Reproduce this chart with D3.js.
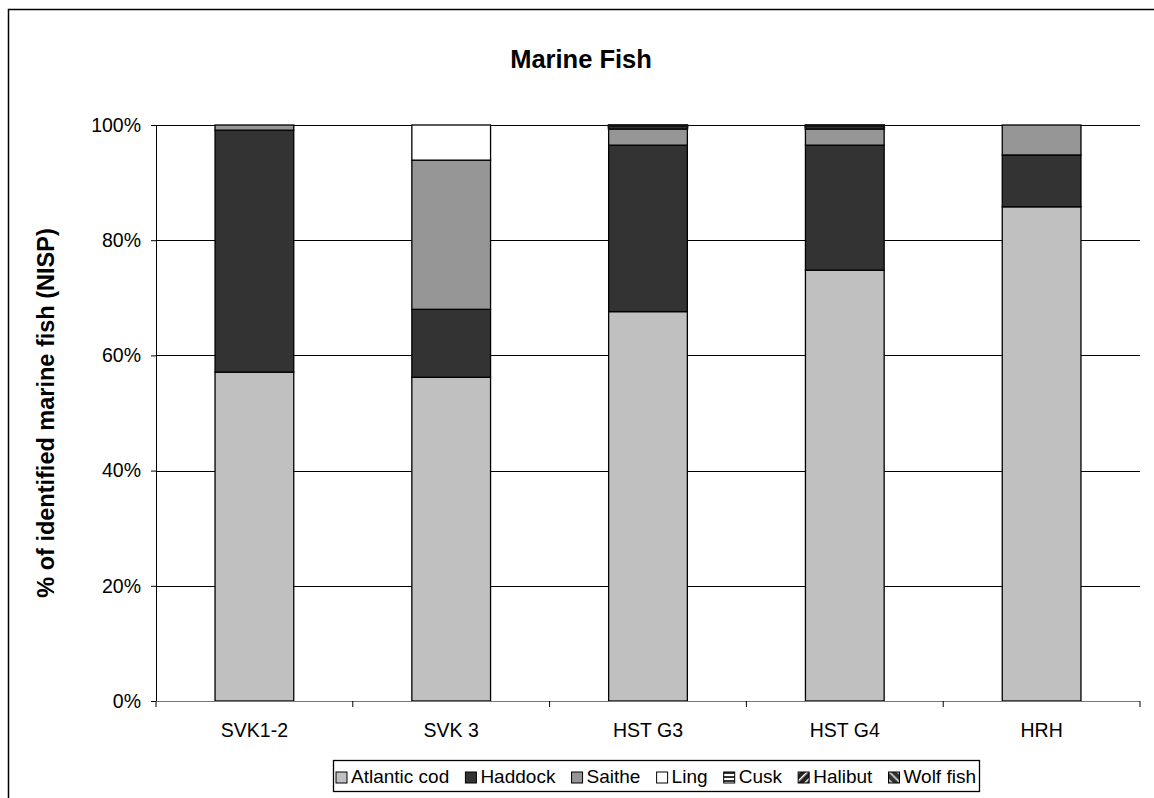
<!DOCTYPE html>
<html><head><meta charset="utf-8">
<script src="https://cdn.jsdelivr.net/npm/d3@7"></script>
<style>body{margin:0;background:#fff}svg{display:block;font-family:"Liberation Sans",Arial,sans-serif}</style>
</head><body><svg id="c" width="1154" height="798"></svg>
<script>
const categories = ["SVK1-2","SVK 3","HST G3","HST G4","HRH"];
const species = ["Atlantic cod","Haddock","Saithe","Ling","Cusk","Halibut","Wolf fish"];
const atlanticCod = [57.1, 56.2, 67.6, 74.8, 85.8];
const haddock     = [42.0, 11.8, 28.9, 21.7, 9.0];
const saithe      = [0.9, 25.9, 2.8, 2.8, 5.2];
const ling        = [0, 6.1, 0, 0, 0];
const cusk        = [0, 0, 0.4, 0.4, 0];
const halibut     = [0, 0, 0.3, 0.3, 0];
const wolfFish    = [0, 0, 0, 0, 0];
const yTicks = [0, 20, 40, 60, 80, 100];

const seriesVals = [atlanticCod, haddock, saithe, ling, cusk, halibut, wolfFish];
const data = categories.map((c,i)=>{const o={cat:c}; species.forEach((s,j)=>o[s]=seriesVals[j][i]); return o;});

const FS = 19.5;
const svg = d3.select("#c");
const defs = svg.append("defs");
const p1 = defs.append("pattern").attr("id","pCusk").attr("patternUnits","userSpaceOnUse").attr("width",4).attr("height",4);
p1.append("rect").attr("width",4).attr("height",4).attr("fill","#fff");
p1.append("rect").attr("width",4).attr("height",2).attr("fill","#333");
const p2 = defs.append("pattern").attr("id","pHal").attr("patternUnits","userSpaceOnUse").attr("width",6).attr("height",6).attr("patternTransform","rotate(-45)");
p2.append("rect").attr("width",6).attr("height",6).attr("fill","#222");
p2.append("rect").attr("width",6).attr("height",1.5).attr("fill","#fff");
const p3 = defs.append("pattern").attr("id","pWolf").attr("patternUnits","userSpaceOnUse").attr("width",6).attr("height",6).attr("patternTransform","rotate(45)");
p3.append("rect").attr("width",6).attr("height",6).attr("fill","#333");
p3.append("rect").attr("width",6).attr("height",2).attr("fill","#bbb");
const colors = {"Atlantic cod":"#C0C0C0","Haddock":"#333333","Saithe":"#969696","Ling":"#FFFFFF","Cusk":"url(#pCusk)","Halibut":"url(#pHal)","Wolf fish":"url(#pWolf)"};

svg.append("rect").attr("x",8.5).attr("y",9.5).attr("width",1160).attr("height",800).attr("fill","none").attr("stroke","#000").attr("stroke-width",1.5);

const pLeft=156, pRight=1140, pTop=125, pBottom=701;
const x = d3.scaleBand().domain(categories).range([pLeft,pRight]).paddingInner(0.6).paddingOuter(0.3);
const y = d3.scaleLinear().domain([0,100]).range([pBottom,pTop]);

svg.append("g").selectAll("line").data(yTicks.filter(t=>t>0)).join("line")
  .attr("x1",pLeft).attr("x2",pRight).attr("y1",d=>Math.round(y(d))+0.5).attr("y2",d=>Math.round(y(d))+0.5)
  .attr("stroke","#000").attr("stroke-width",1);

const stack = d3.stack().keys(species)(data);
svg.append("g").selectAll("g").data(stack).join("g")
  .attr("fill",d=>colors[d.key])
  .selectAll("rect").data(d=>d.filter(v=>v[1]-v[0]>0)).join("rect")
  .attr("x",d=>x(d.data.cat)).attr("width",x.bandwidth())
  .attr("y",d=>y(d[1])).attr("height",d=>y(d[0])-y(d[1]))
  .attr("stroke",d=>(y(d[0])-y(d[1]))<4?"#111":"#000").attr("stroke-width",d=>(y(d[0])-y(d[1]))<4?1.8:1.3);

const yAxis = d3.axisLeft(y).tickValues(yTicks).tickFormat(d=>d+"%").tickSize(5).tickPadding(10);
const ga = svg.append("g").attr("transform",`translate(${pLeft},0)`).call(yAxis);
ga.select(".domain").attr("stroke","#000");
ga.selectAll("text").attr("font-size",FS).attr("fill","#000").attr("font-family","Liberation Sans, Arial");
ga.selectAll(".tick line").attr("stroke","#000");

const gx = svg.append("g").attr("transform",`translate(0,${pBottom})`);
gx.append("line").attr("x1",pLeft).attr("x2",pRight).attr("y1",0.5).attr("y2",0.5).attr("stroke","#777");
const step = x.step();
gx.selectAll("line.t").data(d3.range(categories.length+1)).join("line").attr("class","t")
  .attr("x1",i=>pLeft+i*step).attr("x2",i=>pLeft+i*step).attr("y1",0).attr("y2",6).attr("stroke","#000");
gx.selectAll("text").data(categories).join("text")
  .attr("x",d=>x(d)+x.bandwidth()/2).attr("y",36).attr("text-anchor","middle")
  .attr("font-size",FS).text(d=>d);

svg.append("text").attr("x",581).attr("y",68).attr("text-anchor","middle").attr("font-size",25.5).attr("font-weight","bold").text("Marine Fish");
svg.append("text").attr("transform","translate(54,413) rotate(-90)").attr("text-anchor","middle").attr("font-size",23.5).attr("font-weight","bold").text("% of identified marine fish (NISP)");

const lg = svg.append("g");
const lx0=333, ly0=760, lw=646, lh=31;
const box = lg.append("rect").attr("x",lx0+0.5).attr("y",ly0+0.5).attr("width",lw).attr("height",lh).attr("fill","#fff").attr("stroke","#000").attr("stroke-width",1.3);
const items = species.map(s=>{
  const g = lg.append("g");
  const r = g.append("rect").attr("y",ly0+12).attr("width",11).attr("height",11).attr("fill",colors[s]).attr("stroke","#000").attr("stroke-width",1);
  const t = g.append("text").attr("y",ly0+23).attr("font-size",19).text(s);
  return {r,t,w:t.node().getComputedTextLength()};
});
const totalW = d3.sum(items,d=>d.w+15);
const gap = (lw - 6 - totalW)/(items.length-1);
let cx = lx0+3;
items.forEach(it=>{ it.r.attr("x",cx); it.t.attr("x",cx+15); cx += 15+it.w+gap; });
</script></body></html>
